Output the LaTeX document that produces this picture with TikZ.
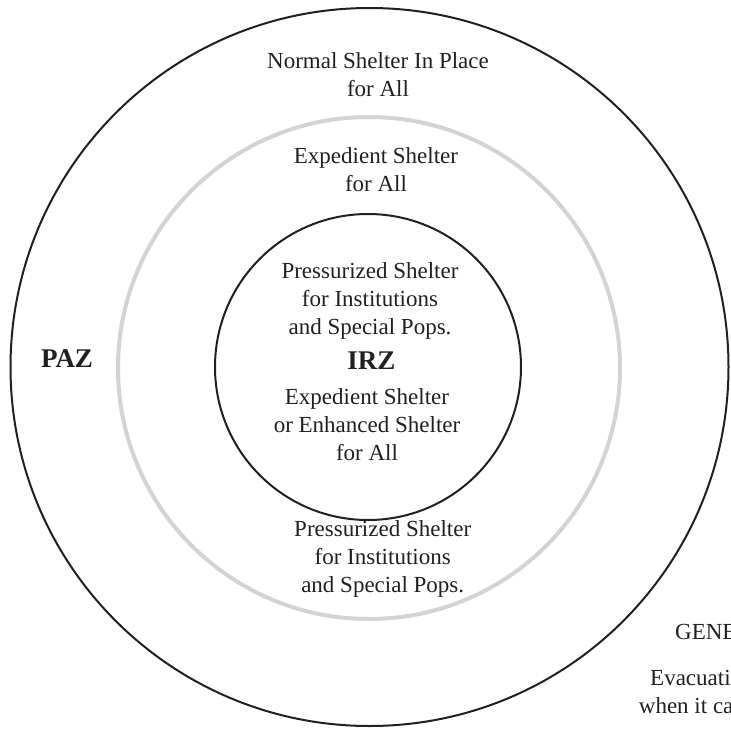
\documentclass[tikz,border=0pt]{standalone}
\usepackage{fontspec}
\setmainfont{Liberation Serif}
\usepackage{tikz}

\begin{document}
\begin{tikzpicture}[x=1pt,y=1pt,yscale=-1,xscale=1,
  blackring/.style={draw={rgb, 255:red, 35; green, 31; blue, 32 }, line width=2pt},
  greyring/.style={draw={rgb, 255:red, 211; green, 211; blue, 212 }, line width=4pt},
  zonetext/.style={align=center, inner sep=0pt, text={rgb, 255:red, 35; green, 31; blue, 32 }, font=\fontsize{23}{28}\selectfont},
  zonename/.style={inner sep=0pt, text={rgb, 255:red, 35; green, 31; blue, 32 }, font=\bfseries\fontsize{27}{32}\selectfont}]
%set diagram to 731 x 734, cut what falls outside
\clip (0,0) rectangle (731,734);

%Centres of the three rings
\coordinate (outerc) at (369.5,367);
\coordinate (greyc) at (369,368);
\coordinate (innerc) at (368,367);

%Shape: Circle [outer, PAZ]
\draw [blackring] (outerc) circle (359);
%Shape: Circle [middle, grey]
\draw [greyring] (greyc) circle (251);
%Shape: Circle [inner, IRZ]
\draw [blackring] (innerc) circle (153);

%Text Nodes
\node [zonetext] (normalsip) at (378,74.6) {Normal Shelter In Place\\for All};
\node [zonetext] (expedall) at (376,170) {Expedient Shelter\\for All};
\node [zonetext] (pressin) at (370,300.7) {Pressurized Shelter\\for Institutions\\and Special Pops.};
\node [zonename] (irz) at (371.5,361) {IRZ};
\node [zonetext] (enhanced) at (367,424.5) {Expedient Shelter\\or Enhanced Shelter\\for All};
\node [zonetext] (pressout) at (382.7,558.5) {Pressurized Shelter\\for Institutions\\and Special Pops.};
\node [zonename] (paz) at (67,359) {PAZ};
\node [zonetext, anchor=west] (general) at (675,632) {GENERAL};
\node [zonetext, anchor=west] (evac) at (650,678) {Evacuation};
\node [zonetext, anchor=west] (whenit) at (638.7,706) {when it can};

\end{tikzpicture}
\end{document}
